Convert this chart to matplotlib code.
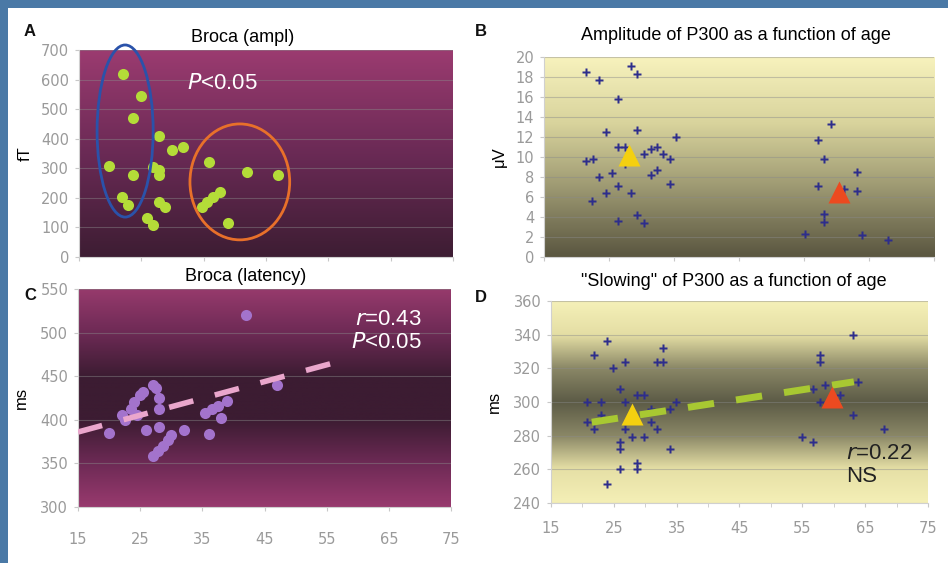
import numpy as np
import matplotlib
matplotlib.use('Agg')
import matplotlib.pyplot as plt
from matplotlib.colors import LinearSegmentedColormap
from matplotlib.patches import Ellipse, Rectangle

plt.rcParams['font.family'] = ['Liberation Sans', 'DejaVu Sans']

# ---- data ----
# A: Broca amplitude (fT) vs age
a_age = [22, 25, 23.7, 27.8, 29.9, 31.7, 19.8, 23.7, 26.9, 27.8, 27.8, 21.9, 22.9,
         27.8, 28.8, 25.9, 26.9, 35.9, 42, 47, 37.6, 36.5, 35.5, 34.7, 38.9]
a_ft = [620, 545, 470, 409, 362, 372, 308, 277, 304, 294, 277, 203, 176,
        186, 169, 132, 108, 321, 288, 277, 220, 203, 186, 169, 115]

# C: Broca latency (ms) vs age
c_age = [20, 22, 22.5, 23.5, 24, 24.5, 25, 25.5, 26, 27, 27.5, 28, 28, 28,
         27, 27.8, 28.6, 29.4, 30, 32, 35.5, 36, 36.5, 37.5, 38, 39, 42, 47]
c_ms = [385, 405, 400, 412, 420, 405, 428, 432, 388, 440, 436, 425, 412, 392,
        358, 364, 370, 377, 382, 388, 408, 384, 412, 416, 402, 422, 520, 440]
c_fit_x = [15, 56]
c_fit_y = [386, 465]

# B: P300 amplitude (uV) vs age
b_age = [21.5, 23.5, 28.4, 29.3, 26.4, 24.5, 29.3, 35.3, 26.4, 27.4, 21.5, 22.5,
         27.4, 30.4, 31.5, 32.4, 33.3, 34.4, 23.5, 25.4, 31.5, 32.4, 34.4, 26.4,
         24.5, 28.4, 22.4, 26.4, 29.3, 30.4,
         59.2, 57.2, 58.1, 63.2, 57.2, 61.2, 63.2, 58.1, 58.1, 55.2, 63.9, 67.9]
b_uv = [18.5, 17.7, 19.1, 18.3, 15.8, 12.5, 12.7, 12.0, 11.0, 11.0, 9.6, 9.8,
        9.3, 10.3, 10.8, 11.0, 10.3, 9.8, 8.0, 8.4, 8.2, 8.7, 7.3, 7.1,
        6.4, 6.4, 5.6, 3.6, 4.2, 3.4,
        13.3, 11.7, 9.8, 8.5, 7.1, 6.8, 6.6, 4.3, 3.5, 2.3, 2.2, 1.7]
b_mean_age = [28.1, 60.4]
b_mean_uv = [10.2, 6.5]

# D: P300 latency (ms) vs age
d_age = [20.7, 20.7, 21.8, 21.8, 23.0, 23.0, 23.9, 23.9, 24.9, 26.0, 26.0, 26.0, 26.0,
         26.8, 26.8, 26.8, 27.9, 28.7, 29.8, 28.7, 28.7, 29.8, 30.9, 30.9, 31.9,
         32.8, 32.8, 31.9, 34.0, 34.0, 34.9,
         63.1, 57.8, 57.8, 63.9, 56.7, 58.6, 57.8, 61.0, 63.1, 68.0, 55.0, 56.7]
d_ms = [300, 288, 328, 284, 300, 292, 336, 251, 320, 308, 276, 272, 260,
        324, 300, 284, 279, 304, 304, 264, 260, 279, 296, 288, 324,
        324, 332, 284, 296, 272, 300,
        340, 328, 324, 312, 308, 310, 300, 304, 292, 284, 279, 276]
d_mean_age = [27.9, 59.7]
d_mean_ms = [293, 303]
d_fit_x = [21.5, 63.2]
d_fit_y = [288, 312]

W, H = 948, 563
fig = plt.figure(figsize=(W / 100, H / 100), dpi=100)
fig.patch.set_facecolor('#4a79a6')
fig.patches.append(Rectangle((8 / W, 0), 1, 1 - 8 / H, transform=fig.transFigure,
                             facecolor='white', edgecolor='none', zorder=-10))


def box(l, t, r, b):
    return [l / W, 1 - b / H, (r - l) / W, (b - t) / H]


def gradient(ax, stops):
    cmap = LinearSegmentedColormap.from_list('g', stops)
    g = np.linspace(0, 1, 256).reshape(-1, 1)
    ax.imshow(g, cmap=cmap, aspect='auto', extent=[0, 1, 0, 1],
              transform=ax.transAxes, zorder=0, origin='lower')


def style(ax, ylo, yhi, ystep, labels_x=True, minor=False, xpad=12):
    ax.set_xlim(15, 75)
    ax.set_ylim(ylo, yhi)
    ax.set_xticks(np.arange(15, 76, 10))
    ax.set_yticks(np.arange(ylo, yhi + 0.1, ystep))
    if minor:
        ax.set_xticks(np.arange(15, 76, 5), minor=True)
    if not labels_x:
        ax.set_xticklabels([])
    for s in ['top', 'right']:
        ax.spines[s].set_visible(False)
    for s in ['left', 'bottom']:
        ax.spines[s].set_color('#d0d0d0')
    ax.tick_params(colors='#c8c8c8', labelcolor='#9a9a9a', labelsize=10.5, length=3,
                   which='both')
    ax.tick_params(axis='x', pad=xpad)
    ax.tick_params(axis='y', pad=4)
    for lab in ax.get_xticklabels() + ax.get_yticklabels():
        lab.set_family(['Liberation Sans Narrow', 'DejaVu Sans'])
    ax.grid(axis='y', color='#8a8a8a', lw=0.8, alpha=0.45)
    ax.set_axisbelow(True)


# ---- A ----
axA = fig.add_axes(box(79, 50, 453, 257))
gradient(axA, ['#3d1d33', '#6a2a55', '#9b3b70'])
style(axA, 0, 700, 100, labels_x=False)
axA.plot(a_age, a_ft, 'o', color='#b4dc38', ms=8, mec='none', zorder=3)
axA.add_patch(Ellipse((22.4, 426), 9, 582, fill=False, ec='#2a52aa', lw=2,
                      zorder=4, clip_on=False))
axA.add_patch(Ellipse((40.8, 254), 16, 392, fill=False, ec='#e8702a', lw=2, zorder=4))
axA.text(32.3, 588, '$\\it{P}$<0.05', color='white', fontsize=16, va='center')
axA.set_ylabel('fT', fontsize=12, labelpad=6)

# ---- C ----
axC = fig.add_axes(box(78, 289, 451, 507))
gradient(axC, ['#983a6e', '#6d2a55', '#3c1c32', '#3c1c32', '#6d2a55', '#963a6c'])
style(axC, 300, 550, 50, xpad=15)
axC.plot(c_age, c_ms, 'o', color='#a373cc', ms=8, mec='none', zorder=3)
axC.plot(c_fit_x, c_fit_y, color='#eaa6cc', lw=4, dashes=(4.5, 4), zorder=4)
axC.text(70.3, 502, '$\\it{r}$=0.43\n$\\it{P}$<0.05', color='white', fontsize=16,
         ha='right', va='center', linespacing=1.15)
axC.set_ylabel('ms', fontsize=12, labelpad=8)

# ---- B ----
axB = fig.add_axes(box(544, 57, 934, 257))
gradient(axB, ['#5a5640', '#9a9670', '#d8d39c', '#f7f2bd'])
style(axB, 0, 20, 2, labels_x=False)
axB.plot(b_age, b_uv, 'P', color='#2d2d8c', ms=5.5, mec='none', zorder=3)
axB.plot(b_mean_age[0], b_mean_uv[0], '^', color='#f4d010', ms=16, mec='none', zorder=4)
axB.plot(b_mean_age[1], b_mean_uv[1], '^', color='#ec4a20', ms=16, mec='none', zorder=4)
axB.set_ylabel('\u03bcV', fontsize=12, labelpad=6)

# ---- D ----
axD = fig.add_axes(box(551, 301, 928, 503))
gradient(axD, ['#f4efb6', '#e6e0a6', '#8a8766', '#5c5b46', '#8a8766', '#e4dea4', '#f5f0b8'])
style(axD, 240, 360, 20, minor=True, xpad=10)
axD.plot(d_age, d_ms, 'P', color='#2d2d8c', ms=5.5, mec='none', zorder=3)
axD.plot(d_fit_x, d_fit_y, color='#a8c832', lw=5, dashes=(3.8, 3.2), zorder=4)
axD.plot(d_mean_age[0], d_mean_ms[0], '^', color='#f4d010', ms=16, mec='none', zorder=5)
axD.plot(d_mean_age[1], d_mean_ms[1], '^', color='#ec4a20', ms=16, mec='none', zorder=5)
axD.text(62, 262.6, '$\\it{r}$=0.22\nNS', color='#222222', fontsize=16,
         ha='left', va='center', linespacing=1.15)
axD.set_ylabel('ms', fontsize=12, labelpad=8)

# ---- titles and panel letters ----
fig.text(243 / W, 1 - 37 / H, 'Broca (ampl)', ha='center', va='center', fontsize=13)
fig.text(246 / W, 1 - 277 / H, 'Broca (latency)', ha='center', va='center', fontsize=13)
fig.text(736 / W, 1 - 36 / H, 'Amplitude of P300 as a function of age',
         ha='center', va='center', fontsize=13)
fig.text(734 / W, 1 - 282 / H, '"Slowing" of P300 as a function of age',
         ha='center', va='center', fontsize=13)
for x, y, s in [(30, 32, 'A'), (481, 31, 'B'), (30, 296, 'C'), (481, 297, 'D')]:
    fig.text(x / W, 1 - y / H, s, ha='center', va='center', fontsize=12,
             fontweight='bold', color='#111111')

fig.savefig('out.png', dpi=100)
